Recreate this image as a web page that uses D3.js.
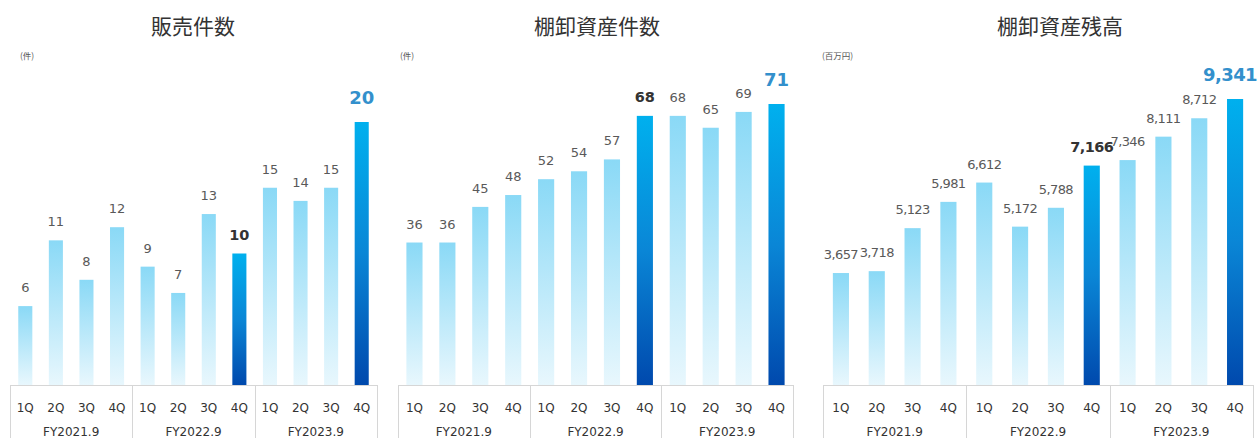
<!DOCTYPE html>
<html><head><meta charset="utf-8">
<script src="https://cdn.jsdelivr.net/npm/d3@7"></script>
<style>
html,body{margin:0;padding:0;background:#fff;}
svg{display:block;}
</style></head>
<body>
<svg id="c" width="1259" height="438"></svg>
<script>
// ---- data ----
const quarters = ["1Q","2Q","3Q","4Q"];
const fiscalYears = ["FY2021.9","FY2022.9","FY2023.9"];
const titles = ["販売件数","棚卸資産件数","棚卸資産残高"];
const units = ["(件)","(件)","(百万円)"];
const salesCount = [6,11,8,12, 9,7,13,10, 15,14,15,20];
const inventoryCount = [36,36,45,48, 52,54,57,68, 68,65,69,71];
const inventoryBalance = [3657,3718,5123,5981, 6612,5172,5788,7166, 7346,8111,8712,9341];

// ---- layout ----
const W = 1259;
const svg = d3.select("#c");
const defs = svg.append("defs");
const gl = defs.append("linearGradient").attr("id","gLight").attr("x1",0).attr("y1",0).attr("x2",0).attr("y2",1);
gl.append("stop").attr("offset","0%").attr("stop-color","#8ad9f6");
gl.append("stop").attr("offset","100%").attr("stop-color","#e8f7fd");
const gd = defs.append("linearGradient").attr("id","gDark").attr("x1",0).attr("y1",0).attr("x2",0).attr("y2",1);
gd.append("stop").attr("offset","0%").attr("stop-color","#00b0ee");
gd.append("stop").attr("offset","50%").attr("stop-color","#0a86d6");
gd.append("stop").attr("offset","100%").attr("stop-color","#0049ad");

const baseY = 385;
const panels = [
  {values: salesCount, left:10, right:377, top:122, pad:0.54, titleX:193, unitX:20},
  {values: inventoryCount, left:398, right:793, top:104, pad:0.51, titleX:597, unitX:400},
  {values: inventoryBalance, left:823, right:1253, top:99, pad:0.55, titleX:1060, unitX:822}
];
const fmt = d3.format(",");
const numFont = "'DejaVu Sans', Verdana, sans-serif";

panels.forEach((p, pi) => {
  const g = svg.append("g");
  const idx = d3.range(12);
  const x = d3.scaleBand().domain(idx).range([p.left, p.right]).paddingInner(p.pad).paddingOuter(p.pad/2);
  const maxV = d3.max(p.values);
  const y = d3.scaleLinear().domain([0, maxV]).range([baseY, p.top]);

  // title
  g.append("text").attr("x", p.titleX).attr("y", 34).attr("text-anchor","middle")
    .attr("font-family","'Noto Sans CJK JP', sans-serif").attr("font-size",21).attr("fill","#333")
    .text(titles[pi]);
  g.append("text").attr("x", p.unitX).attr("y", 59)
    .attr("font-family","'Noto Sans CJK JP', sans-serif").attr("font-size",8.5).attr("fill","#555")
    .text(units[pi]);

  // bars
  g.selectAll("rect.bar").data(p.values).join("rect").attr("class","bar")
    .attr("x",(d,i)=>x(i)).attr("width",x.bandwidth())
    .attr("y",d=>y(d)).attr("height",d=>baseY-y(d))
    .attr("fill",(d,i)=> (i===7||i===11) ? "url(#gDark)" : "url(#gLight)");

  // value labels
  g.selectAll("text.val").data(p.values).join("text").attr("class","val")
    .attr("x",(d,i)=>x(i)+x.bandwidth()/2)
    .attr("y",(d,i)=> y(d) - (i===11 ? 18 : 14))
    .attr("text-anchor","middle")
    .attr("font-family",numFont)
    .attr("font-size",(d,i)=> i===11 ? 18 : (i===7 ? 14.5 : 13))
    .attr("font-weight",(d,i)=> (i===7||i===11) ? "bold" : "normal")
    .attr("fill",(d,i)=> i===11 ? "#3390cc" : (i===7 ? "#333" : "#595959"))
    .attr("letter-spacing", pi===2 ? -0.6 : 0)
    .text(d=>fmt(d))
    .each(function(){
      const w = this.getComputedTextLength();
      const cx = +this.getAttribute("x");
      if (cx + w/2 > W - 2) this.setAttribute("x", W - 2 - w/2);
    });

  // table lines
  const groupW = (p.right - p.left)/3;
  g.append("line").attr("x1",p.left).attr("x2",p.right).attr("y1",baseY+0.5).attr("y2",baseY+0.5)
    .attr("stroke","#d6d6d6");
  d3.range(4).forEach(k=>{
    const xx = Math.round(p.left + k*groupW)+0.5;
    g.append("line").attr("x1",xx).attr("x2",xx).attr("y1",baseY).attr("y2",438).attr("stroke","#d6d6d6");
  });

  // quarter labels
  g.selectAll("text.q").data(idx).join("text").attr("class","q")
    .attr("x",i=>x(i)+x.bandwidth()/2).attr("y",412).attr("text-anchor","middle")
    .attr("font-family",numFont).attr("font-size",12).attr("fill","#333")
    .text(i=>quarters[i%4]);
  // fiscal year labels
  g.selectAll("text.fy").data(fiscalYears).join("text").attr("class","fy")
    .attr("x",(d,k)=>p.left + (k+0.5)*groupW).attr("y",436).attr("text-anchor","middle")
    .attr("font-family",numFont).attr("font-size",12).attr("fill","#333")
    .text(d=>d);
});
</script>
</body></html>
